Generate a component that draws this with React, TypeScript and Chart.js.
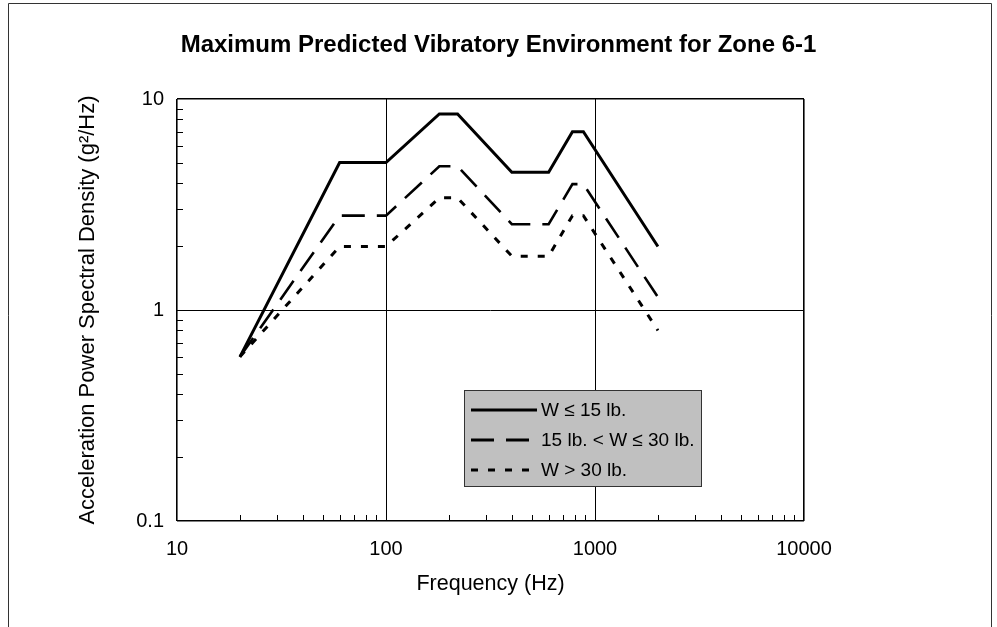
import React, { useEffect, useRef } from 'react';
import { Chart, registerables } from 'chart.js';

Chart.register(...registerables);

// ---- data ----
const frequencies = [20, 60, 100, 180, 220, 400, 600, 780, 880, 2000];
const seriesLight = [0.6, 5, 5, 8.5, 8.5, 4.5, 4.5, 7, 7, 2];
const seriesMedium = [0.6, 2.8, 2.8, 4.8, 4.8, 2.55, 2.55, 3.95, 3.95, 1.15];
const seriesHeavy = [0.6, 2, 2, 3.4, 3.4, 1.8, 1.8, 2.8, 2.8, 0.8];
const seriesLabels = ['W ≤ 15 lb.', '15 lb. < W ≤ 30 lb.', 'W > 30 lb.'];
const xTicks = [10, 100, 1000, 10000];
const yTicks = [0.1, 1, 10];
const xTickLabels = ['10', '100', '1000', '10000'];
const yTickLabels = ['0.1', '1', '10'];
const minorMultipliers = [2, 3, 4, 5, 6, 7, 8, 9];

const FONT = "'Liberation Sans', Arial, sans-serif";
const W = 997;
const H = 627;

const framePlugin = {
  id: 'frame',
  beforeDraw(chart: any) {
    const { ctx } = chart;
    ctx.save();
    ctx.fillStyle = '#ffffff';
    ctx.fillRect(0, 0, chart.width, chart.height);
    ctx.strokeStyle = '#333333';
    ctx.lineWidth = 1;
    ctx.beginPath();
    ctx.moveTo(8.5, H + 5);
    ctx.lineTo(8.5, 3.5);
    ctx.lineTo(991.5, 3.5);
    ctx.lineTo(991.5, H + 5);
    ctx.stroke();
    ctx.restore();
  },
};

const minorTickPlugin = {
  id: 'minorTicks',
  afterDraw(chart: any) {
    const { ctx, chartArea, scales } = chart;
    ctx.save();
    ctx.strokeStyle = '#000';
    ctx.lineWidth = 1;
    ctx.beginPath();
    for (let i = 0; i < xTicks.length - 1; i++) {
      for (const m of minorMultipliers) {
        const px = Math.round(scales.x.getPixelForValue(xTicks[i] * m)) + 0.5;
        ctx.moveTo(px, chartArea.bottom);
        ctx.lineTo(px, chartArea.bottom - 6);
      }
    }
    for (let i = 0; i < yTicks.length - 1; i++) {
      for (const m of minorMultipliers) {
        const py = Math.round(scales.y.getPixelForValue(yTicks[i] * m)) + 0.5;
        ctx.moveTo(chartArea.left, py);
        ctx.lineTo(chartArea.left + 6, py);
      }
    }
    ctx.stroke();
    ctx.restore();
  },
};

const LEGEND_BOX = { x: 464, y: 390, w: 237, h: 96 };

const legendPlugin = {
  id: 'boxLegend',
  afterDatasetsDraw(chart: any) {
    const { ctx } = chart;
    const b = LEGEND_BOX;
    ctx.save();
    ctx.fillStyle = '#c0c0c0';
    ctx.fillRect(b.x, b.y, b.w, b.h);
    ctx.strokeStyle = '#333333';
    ctx.lineWidth = 1;
    ctx.strokeRect(b.x + 0.5, b.y + 0.5, b.w, b.h);
    const rowH = 30;
    chart.data.datasets.forEach((ds: any, i: number) => {
      const cy = b.y + 20 + i * rowH;
      ctx.strokeStyle = '#000';
      ctx.lineWidth = 3;
      ctx.setLineDash(ds.borderDash || []);
      ctx.lineCap = 'butt';
      ctx.beginPath();
      ctx.moveTo(b.x + 7, cy);
      ctx.lineTo(b.x + 73, cy);
      ctx.stroke();
      ctx.setLineDash([]);
      ctx.fillStyle = '#000';
      ctx.font = `19px ${FONT}`;
      ctx.textBaseline = 'middle';
      ctx.textAlign = 'left';
      ctx.fillText(ds.label, b.x + 77, cy + 1);
    });
    ctx.restore();
  },
};

const isEdge = (v: number, arr: number[]) => v === arr[0] || v === arr[arr.length - 1];

export default function App() {
  const canvasRef = useRef<HTMLCanvasElement | null>(null);

  useEffect(() => {
    if (!canvasRef.current) return;
    const mk = (vals: number[]) => frequencies.map((f, i) => ({ x: f, y: vals[i] }));
    const chart = new Chart(canvasRef.current, {
      type: 'line',
      data: {
        datasets: [
          { label: seriesLabels[0], data: mk(seriesLight), borderColor: '#000', borderWidth: 3, pointRadius: 0, borderDash: [], borderJoinStyle: 'miter' },
          { label: seriesLabels[1], data: mk(seriesMedium), borderColor: '#000', borderWidth: 2.6, pointRadius: 0, borderDash: [23, 12], borderJoinStyle: 'miter' },
          { label: seriesLabels[2], data: mk(seriesHeavy), borderColor: '#000', borderWidth: 3, pointRadius: 0, borderDash: [7, 10], borderJoinStyle: 'miter' },
        ],
      } as any,
      plugins: [framePlugin, minorTickPlugin, legendPlugin],
      options: {
        responsive: false,
        animation: false,
        devicePixelRatio: 1,
        layout: { padding: 0 },
        plugins: {
          legend: { display: false },
          tooltip: { enabled: false },
          title: {
            display: true,
            text: 'Maximum Predicted Vibratory Environment for Zone 6-1',
            color: '#000',
            font: { family: FONT, size: 24, weight: 'bold', lineHeight: 1.2 },
            padding: { top: 31, bottom: 39.2 },
          },
        },
        scales: {
          x: {
            type: 'logarithmic',
            min: xTicks[0],
            max: xTicks[xTicks.length - 1],
            afterFit: (s: any) => { s.height = 106; },
            afterBuildTicks: (s: any) => { s.ticks = xTicks.map((v) => ({ value: v })); },
            ticks: {
              autoSkip: false,
              maxRotation: 0,
              padding: 16,
              color: '#000',
              font: { family: FONT, size: 20 },
              callback: (v: any) => xTickLabels[xTicks.indexOf(Number(v))] ?? '',
            },
            grid: {
              drawTicks: false,
              color: '#000',
              lineWidth: (c: any) => (c.tick && isEdge(c.tick.value, xTicks) ? 1.6 : 1),
            },
            border: { display: false },
            title: {
              display: true,
              text: 'Frequency (Hz)',
              color: '#000',
              font: { family: FONT, size: 21.5, lineHeight: 1.2 },
              padding: { top: 0, bottom: 30 },
            },
          },
          y: {
            type: 'logarithmic',
            min: yTicks[0],
            max: yTicks[yTicks.length - 1],
            afterFit: (s: any) => { s.width = 177; },
            afterBuildTicks: (s: any) => { s.ticks = yTicks.map((v) => ({ value: v })); },
            ticks: {
              autoSkip: false,
              padding: 13,
              color: '#000',
              font: { family: FONT, size: 20 },
              callback: (v: any) => {
                const idx = yTicks.findIndex((t) => Math.abs(t - Number(v)) < 1e-9);
                return idx >= 0 ? yTickLabels[idx] : '';
              },
            },
            grid: {
              drawTicks: false,
              color: '#000',
              lineWidth: (c: any) => (c.tick && isEdge(c.tick.value, yTicks) ? 1.6 : 1),
            },
            border: { display: false },
            title: {
              display: true,
              text: 'Acceleration Power Spectral Density (g²/Hz)',
              color: '#000',
              font: { family: FONT, size: 22, lineHeight: 1.2 },
              padding: { top: 75, bottom: 0 },
            },
          },
          yPad: {
            type: 'linear',
            position: 'right',
            display: true,
            afterFit: (s: any) => { s.width = 193; },
            grid: { display: false, drawOnChartArea: false },
            ticks: { display: false },
            border: { display: false },
          },
        },
      } as any,
    });
    return () => chart.destroy();
  }, []);

  return (
    <div style={{ position: 'fixed', left: 0, top: 0, width: W, height: H, background: '#fff' }}>
      <canvas ref={canvasRef} width={W} height={H} style={{ display: 'block', width: W, height: H }} />
    </div>
  );
}
